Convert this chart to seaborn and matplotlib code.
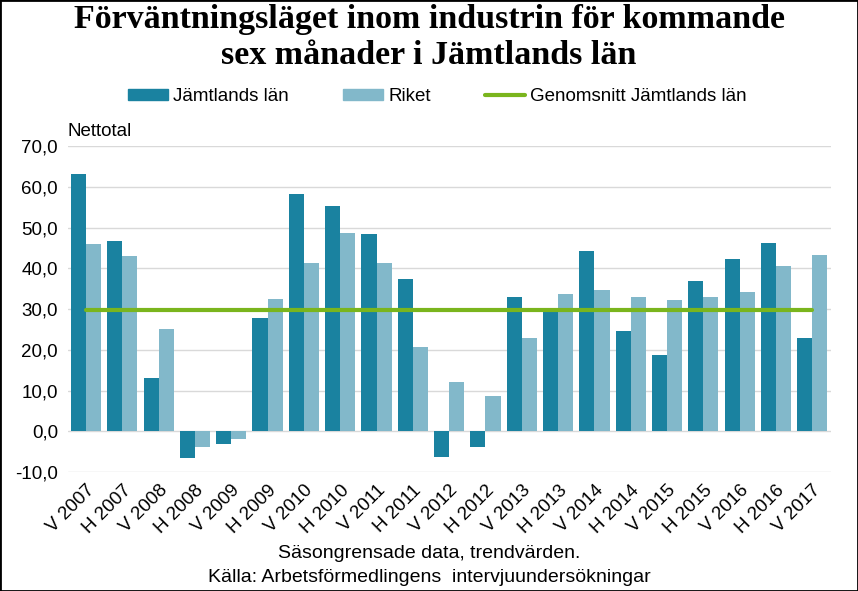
import numpy as np
import pandas as pd
import matplotlib
matplotlib.use("Agg")
import matplotlib.pyplot as plt
import seaborn as sns
from matplotlib.patches import Patch, Rectangle
from matplotlib.lines import Line2D

periods = ['V 2007', 'H 2007', 'V 2008', 'H 2008', 'V 2009', 'H 2009', 'V 2010',
           'H 2010', 'V 2011', 'H 2011', 'V 2012', 'H 2012', 'V 2013', 'H 2013',
           'V 2014', 'H 2014', 'V 2015', 'H 2015', 'V 2016', 'H 2016', 'V 2017']
jamtland = [63.1, 46.7, 13.2, -6.5, -3.1, 27.9, 58.2, 55.3, 48.5, 37.4, -6.3,
            -3.8, 33.0, 29.6, 44.3, 24.7, 18.8, 36.9, 42.3, 46.2, 23.0]
riket = [46.0, 43.1, 25.2, -3.8, -1.9, 32.5, 41.4, 48.7, 41.4, 20.8, 12.0,
         8.6, 22.8, 33.8, 34.7, 33.0, 32.3, 33.0, 34.3, 40.6, 43.3]
genomsnitt = 29.9
yticks = [-10, 0, 10, 20, 30, 40, 50, 60, 70]

c_dark = '#1a82a0'
c_light = '#82b8ca'
c_green = '#7ab51d'

df = pd.DataFrame({'period': periods * 2,
                   'value': jamtland + riket,
                   'serie': ['Jämtlands län'] * len(periods) + ['Riket'] * len(periods)})

sns.set_style("white")
plt.rcParams['font.family'] = ['Liberation Sans', 'DejaVu Sans']
plt.rcParams['text.color'] = 'black'
plt.rcParams['xtick.color'] = 'black'
plt.rcParams['ytick.color'] = 'black'

fig = plt.figure(figsize=(8.58, 5.91), dpi=100)
ax = fig.add_axes([0.079, 0.201, 0.889, 0.552])

sns.barplot(data=df, x='period', y='value', hue='serie', order=periods,
            palette=[c_dark, c_light], width=0.83, saturation=1, ax=ax,
            legend=False, linewidth=0, zorder=2)
ax.plot(np.arange(len(periods)), [genomsnitt] * len(periods), color=c_green,
        lw=3, zorder=3)

ax.set_ylim(-10, 70)
ax.set_xlim(-0.5, len(periods) - 0.5)
ax.set_yticks(yticks)
ax.set_yticklabels([f'{v:.1f}'.replace('.', ',') for v in yticks], fontsize=13.5)
ax.set_xticks(np.arange(len(periods)))
ax.set_xticklabels(periods, rotation=45, ha='right', rotation_mode='anchor', fontsize=13.5)
ax.tick_params(axis='both', length=0, pad=7)
ax.yaxis.grid(True, color='#d9d9d9', lw=1, zorder=0)
ax.set_axisbelow(True)
for s in ax.spines.values():
    s.set_visible(False)
ax.set_xlabel('')
ax.set_ylabel('')

fig.text(0.079, 0.778, 'Nettotal', fontsize=13.5, ha='left', va='center')

fig.text(0.5, 0.936, 'Förväntningsläget inom industrin för kommande\nsex månader i Jämtlands län',
         ha='center', va='center', fontsize=24.5, fontweight='bold',
         family=['Liberation Serif', 'DejaVu Serif'], linespacing=1.2)

handles = [Patch(color=c_dark), Patch(color=c_light), Line2D([], [], color=c_green, lw=3)]
fig.legend(handles, ['Jämtlands län', 'Riket', 'Genomsnitt Jämtlands län'],
           loc='center', bbox_to_anchor=(0.51, 0.836), ncol=3, frameon=False,
           fontsize=13.5, handlelength=2.1, handleheight=0.5, columnspacing=2.9,
           handletextpad=0.3)

fig.text(0.5, 0.064, 'Säsongrensade data, trendvärden.', ha='center', va='center', fontsize=14)
fig.text(0.5, 0.022, 'Källa: Arbetsförmedlingens  intervjuundersökningar', ha='center',
         va='center', fontsize=14)

fig.patches.append(Rectangle((0, 0), 1, 1, transform=fig.transFigure, fill=False,
                             edgecolor='black', lw=2, zorder=10))

fig.savefig('out.png', dpi=100)
